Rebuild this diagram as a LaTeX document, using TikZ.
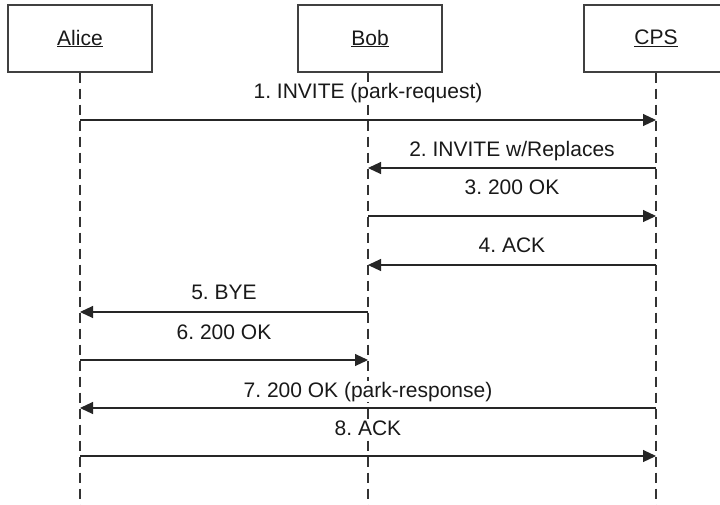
\documentclass[tikz,border=0pt]{standalone}
\usepackage{fontspec}
\setmainfont{Liberation Sans}
\usetikzlibrary{arrows.meta,calc}
\frenchspacing
\begin{document}
\begin{tikzpicture}[x=1pt,y=-1pt,
  actor/.style={draw=black!75,line width=1.2pt,fill=white,minimum width=144pt,minimum height=67pt,inner sep=0pt,font=\fontsize{21}{24}\selectfont,text=black!90},
  lifeline/.style={draw=black!80,line width=1.1pt,dash pattern=on 10pt off 6pt},
  msg/.style={draw=black!85,line width=1.1pt,-{Triangle[length=13pt,width=12pt]}},
  lbl/.style={anchor=base,inner sep=1pt,fill=white,font=\fontsize{21}{24}\selectfont,text=black!90}]
\clip (0,0) rectangle (720,504);
\fill[white] (0,0) rectangle (720,504);
% lifelines
\coordinate (Abot) at (80,510);
\coordinate (Bbot) at (368,510);
\coordinate (Cbot) at (656,510);
\node[actor] (Alice) at (80,38.5) {\underline{Alice}};
\node[actor] (Bob) at (370,38.5) {\underline{Bob}};
\node[actor] (CPS) at (656,38.5) {\underline{CPS}};
\draw[lifeline] (Alice.south -| Abot) -- (Abot);
\draw[lifeline] (Bob.south -| Bbot) -- (Bbot);
\draw[lifeline] (CPS.south -| Cbot) -- (Cbot);
% message anchor points
\foreach \n/\y in {1/120,2/168,3/216,4/265,5/312,6/360,7/408,8/456}{
  \coordinate (A\n) at (80,\y);
  \coordinate (B\n) at (368,\y);
  \coordinate (C\n) at (656,\y);
}
\draw[msg] (A1) -- (C1);
\node[lbl] (L1) at ($(A1)!0.5!(C1)+(0,-22)$) {1. INVITE (park-request)};
\draw[msg] (C2) -- (B2);
\node[lbl] (L2) at ($(B2)!0.5!(C2)+(0,-12)$) {2. INVITE w/Replaces};
\draw[msg] (B3) -- (C3);
\node[lbl] (L3) at ($(B3)!0.5!(C3)+(0,-22)$) {3. 200 OK};
\draw[msg] (C4) -- (B4);
\node[lbl] (L4) at ($(B4)!0.5!(C4)+(0,-13)$) {4. ACK};
\draw[msg] (B5) -- (A5);
\node[lbl] (L5) at ($(A5)!0.5!(B5)+(0,-13)$) {5. BYE};
\draw[msg] (A6) -- (B6);
\node[lbl] (L6) at ($(A6)!0.5!(B6)+(0,-21)$) {6. 200 OK};
\draw[msg] (C7) -- (A7);
\node[lbl] (L7) at ($(A7)!0.5!(C7)+(0,-11)$) {7. 200 OK (park-response)};
\draw[msg] (A8) -- (C8);
\node[lbl] (L8) at ($(A8)!0.5!(C8)+(0,-21)$) {8. ACK};
\end{tikzpicture}
\end{document}
